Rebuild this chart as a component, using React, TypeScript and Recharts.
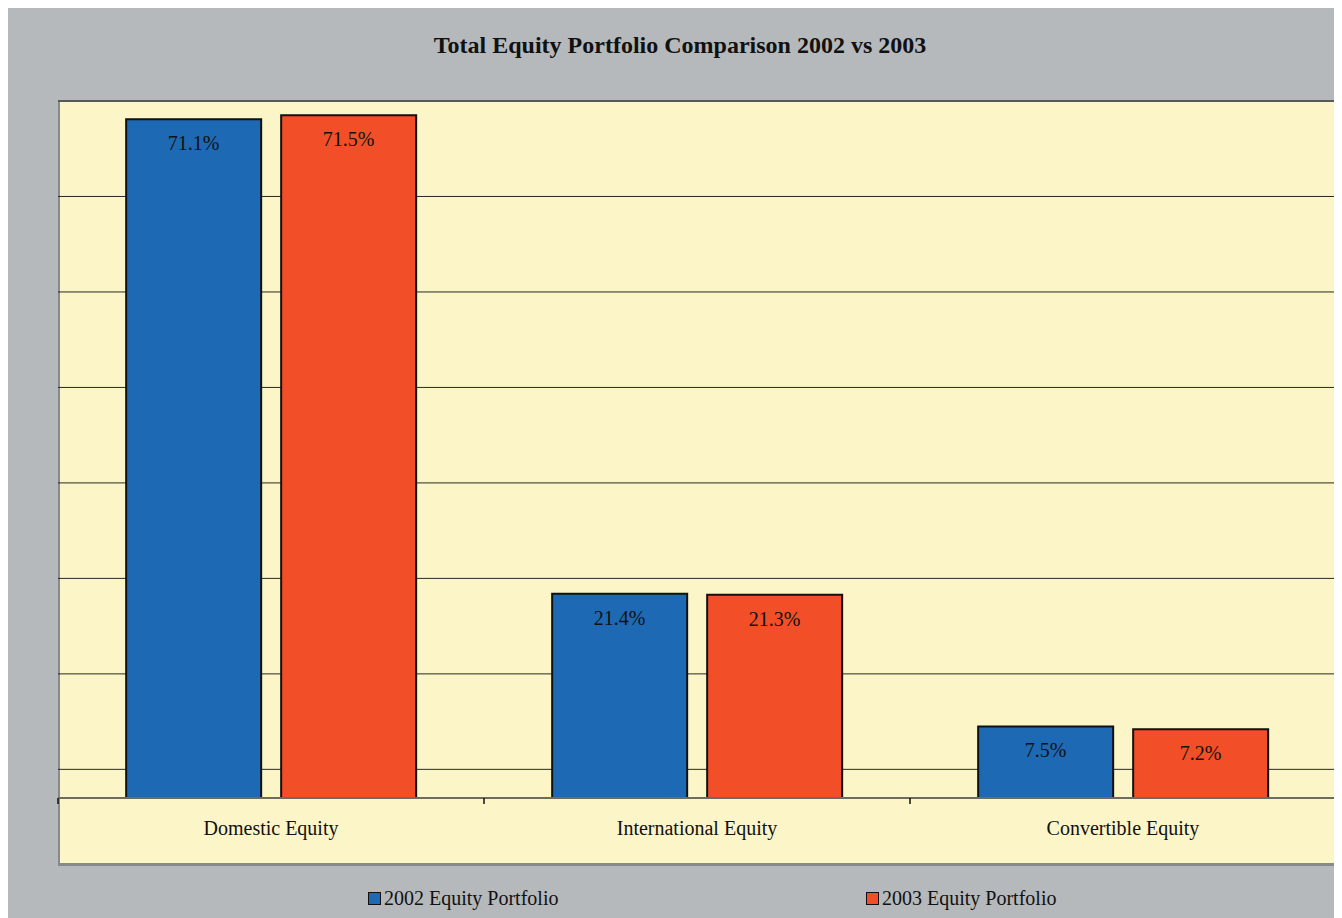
import React from 'react';
import { BarChart, Bar, XAxis, YAxis, CartesianGrid, LabelList } from 'recharts';

const categories = ['Domestic Equity', 'International Equity', 'Convertible Equity'];
const portfolio2002 = [71.1, 21.4, 7.5];
const portfolio2003 = [71.5, 21.3, 7.2];
const gridTicks = [3, 13, 23, 33, 43, 53, 63, 73];

const SERIES = [
    { key: 'p2002', name: '2002 Equity Portfolio', color: '#1e69b4' },
    { key: 'p2003', name: '2003 Equity Portfolio', color: '#f24e28' },
];

const data = categories.map((name, i) => ({
    name,
    p2002: portfolio2002[i],
    p2003: portfolio2003[i],
}));

const FONT = '"Liberation Serif", "Times New Roman", serif';
const W = 1334;
const H = 912;
const PLOT_LEFT = 50;
const PLOT_WIDTH = 1278;
const BAND = PLOT_WIDTH / categories.length;

const CategoryTick = (props: any) => {
    const { x, y, payload, index } = props;
    const last = index === categories.length - 1;
    return (
        <g>
            <line x1={x - BAND / 2} x2={x - BAND / 2} y1={y - 8} y2={y - 2} stroke="#111" strokeWidth={1.5} />
            {last && <line x1={x + BAND / 2} x2={x + BAND / 2} y1={y - 8} y2={y - 2} stroke="#111" strokeWidth={1.5} />}
            <text x={x} y={y + 29} textAnchor="middle" fill="#111" fontSize={20} style={{ fontFamily: FONT }}>
                {payload.value}
            </text>
        </g>
    );
};

const ValueLabel = (props: any) => {
    const { x, y, width, value } = props;
    return (
        <text x={x + width / 2} y={y + 31} textAnchor="middle" fill="#111" fontSize={20} style={{ fontFamily: FONT }}>
            {`${Number(value).toFixed(1)}%`}
        </text>
    );
};

export default function App() {
    return (
        <div style={{ position: 'relative', width: W, height: H, marginTop: -2, background: '#b5b9bc', fontFamily: FONT }}>
            <div
                style={{
                    position: 'absolute',
                    top: 26,
                    left: 0,
                    width: W,
                    paddingLeft: 10,
                    boxSizing: 'border-box',
                    textAlign: 'center',
                    fontWeight: 'bold',
                    fontSize: 24,
                    color: '#111',
                }}
            >
                Total Equity Portfolio Comparison 2002 vs 2003
            </div>
            <div
                style={{
                    position: 'absolute',
                    left: PLOT_LEFT,
                    top: 94,
                    width: PLOT_WIDTH + 2,
                    height: 766,
                    background: '#fbf5c8',
                    borderTop: '2px solid #868a8c',
                    borderLeft: '2px solid #868a8c',
                    borderRight: '3px solid #868a8c',
                    borderBottom: '3px solid #868a8c',
                    boxSizing: 'border-box',
                }}
            />
            <div style={{ position: 'absolute', left: 0, top: 0 }}>
                <BarChart
                    width={W}
                    height={H}
                    data={data}
                    margin={{ top: 95, right: W - PLOT_LEFT - PLOT_WIDTH, bottom: 54, left: PLOT_LEFT }}
                    barCategoryGap="16%"
                    barGap={20}
                >
                    <CartesianGrid vertical={false} stroke="#2a2a22" strokeWidth={1} />
                    <YAxis hide domain={[0, 73]} ticks={gridTicks} type="number" allowDataOverflow />
                    <XAxis
                        dataKey="name"
                        height={66}
                        axisLine={{ stroke: '#6e6c5c', strokeWidth: 2 }}
                        tickLine={false}
                        tick={<CategoryTick />}
                        interval={0}
                    />
                    {SERIES.map((s) => (
                        <Bar
                            key={s.key}
                            dataKey={s.key}
                            name={s.name}
                            fill={s.color}
                            stroke="#111"
                            strokeWidth={2}
                            isAnimationActive={false}
                        >
                            <LabelList dataKey={s.key} content={<ValueLabel />} />
                        </Bar>
                    ))}
                </BarChart>
            </div>
            {SERIES.map((s, i) => (
                <div
                    key={s.key}
                    style={{
                        position: 'absolute',
                        top: 881,
                        left: i === 0 ? 360 : 858,
                        display: 'flex',
                        alignItems: 'center',
                        fontSize: 20,
                        color: '#111',
                    }}
                >
                    <span
                        style={{
                            display: 'inline-block',
                            width: 11,
                            height: 11,
                            background: s.color,
                            border: '1.5px solid #111',
                            marginRight: 3,
                        }}
                    />
                    {s.name}
                </div>
            ))}
        </div>
    );
}
